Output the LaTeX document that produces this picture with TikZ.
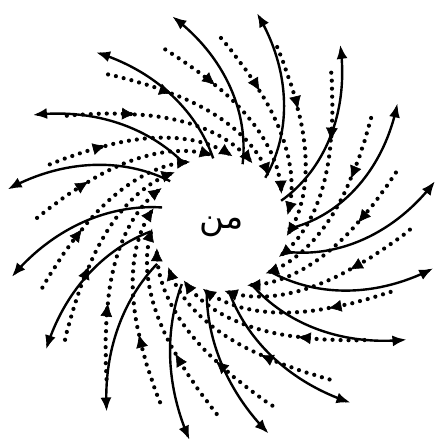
\documentclass[tikz,border=0pt]{standalone}
\usepackage{fontspec}
\newfontfamily\arabicfont[Script=Arabic]{DejaVu Sans}
\TeXXeTstate=1
\usetikzlibrary{arrows.meta}
\begin{document}
\begin{tikzpicture}[x=1pt,y=1pt,
  solidarm/.style={line width=2.4pt, -{Latex[length=14pt,width=11pt]}},
  dotarm/.style={line width=4.2pt, line cap=round, dash pattern=on 0pt off 8pt,
    -{Latex[length=13pt,width=12pt,line width=0.6pt]}},
]
\useasboundingbox (0,0) rectangle (436,-443);
\fill[white] (0,0) rectangle (436,-443);
\begin{scope}[shift={(220,-223)}]
\node[font=\arabicfont\fontsize{34}{40}\selectfont, inner sep=0pt] (self) at (2,-4) {\beginR من\endR};
\foreach \sa/\sr/\ea/\er in {-23/74/11/219, -5/68/34/214, 20/65/56/215, 45/64/80/213,
  69/63/103/212, 96/65/126/211, 121/69/150/216, 140/65/171/215, 165/60/194.5/215,
  187/70/216/215, 213/75/239/220, 238/72/262/219, 259/70/283/216, 278/72/306/222,
  297/68/328/220, 316/70/348/218} {
  \draw[solidarm] plot[domain=0:1, samples=30, smooth, variable=\tt]
    ({\sa+(\ea-\sa)*\tt}:{\sr+(\er-\sr)*\tt});
}
\foreach \oa/\orr in {16/183, 34.8/184, 53.5/187, 72/185, 89.7/185, 107.5/182,
  127/186, 145/187, 161/180, 178.4/183, 200/189, 217/194, 234/193, 251.5/189,
  269/191, 286/190, 305/191, 321/186, 338/184, 358/190} {
  \draw[dotarm] plot[domain=\orr:138, samples=12, smooth, variable=\rr]
    ({\oa-8900*(1/\rr-1/\orr)}:{\rr});
  \draw[dotarm] plot[domain=138:68, samples=30, smooth, variable=\rr]
    ({\oa-8900*(1/\rr-1/\orr)}:{\rr});
}
\end{scope}
\end{tikzpicture}
\end{document}
